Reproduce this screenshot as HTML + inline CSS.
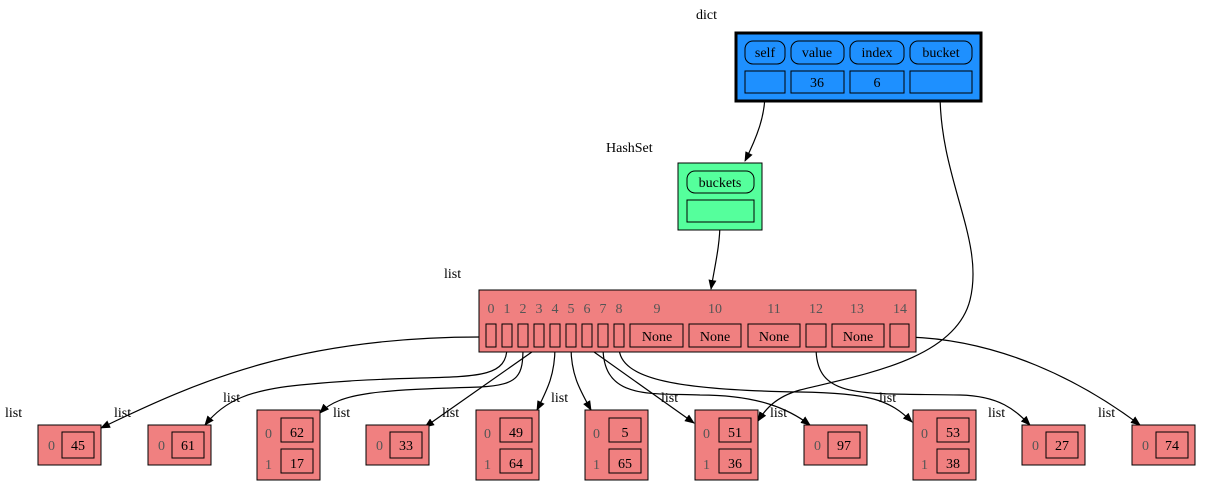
<!DOCTYPE html>
<html><head><meta charset="utf-8"><style>
html,body{margin:0;padding:0;background:#fff;}
svg text{font-family:"Liberation Serif",serif;font-size:14px;}
</style></head><body>
<svg width="1212" height="492" viewBox="0 0 1212 492" xmlns="http://www.w3.org/2000/svg">
<defs>
<marker id="a" markerWidth="10" markerHeight="8" refX="9" refY="4" orient="auto" markerUnits="userSpaceOnUse">
<path d="M0,0 L10,4 L0,8 Z" fill="#000"/></marker>
</defs>
<g fill="none" stroke="#000" stroke-width="1.2">
<path d="M765,93 C765,115 758,135 745,161" marker-end="url(#a)"/>
<path d="M720,222 C720,245 715,265 711,289" marker-end="url(#a)"/>
<path d="M940,93 C940,180 985,240 970,300 C955,360 860,375 800,390 C775,397 765,410 758,421" marker-end="url(#a)"/>
<path d="M480,337 C300,337 200,380 101,428" marker-end="url(#a)"/>
<path d="M507,347 C507,390 450,370 300,385 C250,390 225,400 205,425" marker-end="url(#a)"/>
<path d="M523,347 C523,375 520,385 480,387 C380,390 340,392 320,413" marker-end="url(#a)"/>
<path d="M539,347 L425,427" marker-end="url(#a)"/>
<path d="M555,347 C555,375 547,390 537,410" marker-end="url(#a)"/>
<path d="M571,347 C571,375 580,390 591,410" marker-end="url(#a)"/>
<path d="M587,347 L694,423" marker-end="url(#a)"/>
<path d="M603,347 C603,400 650,393 700,395 C760,395 790,410 810,425" marker-end="url(#a)"/>
<path d="M619,347 C619,380 680,390 800,392 C870,393 890,400 912,422" marker-end="url(#a)"/>
<path d="M816,347 C816,400 860,393 960,395 C1000,396 1015,410 1030,425" marker-end="url(#a)"/>
<path d="M909,337 C1000,340 1080,380 1140,425" marker-end="url(#a)"/>
</g>
<!-- labels -->
<g fill="#000">
<text x="696" y="19">dict</text>
<text x="606" y="152">HashSet</text>
<text x="444" y="278">list</text>
<text x="5" y="417">list</text>
<text x="114" y="417">list</text>
<text x="223" y="402">list</text>
<text x="333" y="417">list</text>
<text x="442" y="417">list</text>
<text x="551" y="402">list</text>
<text x="661" y="402">list</text>
<text x="770" y="417">list</text>
<text x="879" y="402">list</text>
<text x="988" y="417">list</text>
<text x="1098" y="417">list</text>
</g>
<!-- dict -->
<rect x="736" y="33" width="245" height="68" fill="#1e90ff" stroke="#000" stroke-width="3"/>
<g fill="none" stroke="#000">
<rect x="745" y="41" width="40" height="23" rx="8"/>
<rect x="791" y="41" width="53" height="23" rx="8"/>
<rect x="850" y="41" width="54" height="23" rx="8"/>
<rect x="910" y="41" width="62" height="23" rx="8"/>
<rect x="745" y="71" width="40" height="22"/>
<rect x="791" y="71" width="53" height="22"/>
<rect x="850" y="71" width="54" height="22"/>
<rect x="910" y="71" width="62" height="22"/>
</g>
<g text-anchor="middle">
<text x="765" y="57">self</text><text x="817" y="57">value</text><text x="877" y="57">index</text><text x="941" y="57">bucket</text>
<text x="817" y="87">36</text><text x="877" y="87">6</text>
</g>
<!-- HashSet -->
<rect x="678" y="163" width="84" height="67" fill="#55ff9c" stroke="#000"/>
<rect x="687" y="171" width="67" height="22" rx="8" fill="none" stroke="#000"/>
<rect x="687" y="200" width="67" height="22" fill="none" stroke="#000"/>
<text x="720" y="187" text-anchor="middle">buckets</text>
<!-- main list -->
<rect x="479" y="290" width="437" height="62" fill="#f08080" stroke="#000"/>
<g fill="#555" text-anchor="middle">
<text x="491" y="313">0</text><text x="507" y="313">1</text><text x="523" y="313">2</text><text x="539" y="313">3</text><text x="555" y="313">4</text><text x="571" y="313">5</text><text x="587" y="313">6</text><text x="603" y="313">7</text><text x="619" y="313">8</text>
<text x="657" y="313">9</text><text x="715" y="313">10</text><text x="774" y="313">11</text><text x="816" y="313">12</text><text x="857" y="313">13</text><text x="900" y="313">14</text>
</g>
<g fill="none" stroke="#000">
<rect x="486" y="324" width="10" height="23"/><rect x="502" y="324" width="10" height="23"/><rect x="518" y="324" width="10" height="23"/><rect x="534" y="324" width="10" height="23"/><rect x="550" y="324" width="10" height="23"/><rect x="566" y="324" width="10" height="23"/><rect x="582" y="324" width="10" height="23"/><rect x="598" y="324" width="10" height="23"/><rect x="614" y="324" width="10" height="23"/>
<rect x="630" y="324" width="53" height="23"/><rect x="689" y="324" width="52" height="23"/><rect x="748" y="324" width="52" height="23"/><rect x="806" y="324" width="20" height="23"/><rect x="832" y="324" width="52" height="23"/><rect x="890" y="324" width="19" height="23"/>
</g>
<g text-anchor="middle">
<text x="657" y="341">None</text><text x="715" y="341">None</text><text x="774" y="341">None</text><text x="858" y="341">None</text>
</g>
<!-- small lists -->
<g>
<g transform="translate(38,0)"><rect x="0" y="425" width="63" height="40" fill="#f08080" stroke="#000"/><text x="10" y="450" fill="#555">0</text><rect x="24" y="432" width="32" height="26" fill="none" stroke="#000"/><text x="40" y="450" text-anchor="middle">45</text></g>
<g transform="translate(148,0)"><rect x="0" y="425" width="63" height="40" fill="#f08080" stroke="#000"/><text x="10" y="450" fill="#555">0</text><rect x="24" y="432" width="32" height="26" fill="none" stroke="#000"/><text x="40" y="450" text-anchor="middle">61</text></g>
<g transform="translate(366,0)"><rect x="0" y="425" width="63" height="40" fill="#f08080" stroke="#000"/><text x="10" y="450" fill="#555">0</text><rect x="24" y="432" width="32" height="26" fill="none" stroke="#000"/><text x="40" y="450" text-anchor="middle">33</text></g>
<g transform="translate(804,0)"><rect x="0" y="425" width="63" height="40" fill="#f08080" stroke="#000"/><text x="10" y="450" fill="#555">0</text><rect x="24" y="432" width="32" height="26" fill="none" stroke="#000"/><text x="40" y="450" text-anchor="middle">97</text></g>
<g transform="translate(1022,0)"><rect x="0" y="425" width="63" height="40" fill="#f08080" stroke="#000"/><text x="10" y="450" fill="#555">0</text><rect x="24" y="432" width="32" height="26" fill="none" stroke="#000"/><text x="40" y="450" text-anchor="middle">27</text></g>
<g transform="translate(1132,0)"><rect x="0" y="425" width="63" height="40" fill="#f08080" stroke="#000"/><text x="10" y="450" fill="#555">0</text><rect x="24" y="432" width="32" height="26" fill="none" stroke="#000"/><text x="40" y="450" text-anchor="middle">74</text></g>
</g>
<!-- two-row lists -->
<g>
<g transform="translate(257,0)"><rect x="0" y="410" width="63" height="70" fill="#f08080" stroke="#000"/><text x="8" y="438" fill="#555">0</text><text x="8" y="469" fill="#555">1</text><rect x="24" y="418" width="32" height="24" fill="none" stroke="#000"/><rect x="24" y="449" width="32" height="24" fill="none" stroke="#000"/><text x="40" y="437" text-anchor="middle">62</text><text x="40" y="468" text-anchor="middle">17</text></g>
<g transform="translate(476,0)"><rect x="0" y="410" width="63" height="70" fill="#f08080" stroke="#000"/><text x="8" y="438" fill="#555">0</text><text x="8" y="469" fill="#555">1</text><rect x="24" y="418" width="32" height="24" fill="none" stroke="#000"/><rect x="24" y="449" width="32" height="24" fill="none" stroke="#000"/><text x="40" y="437" text-anchor="middle">49</text><text x="40" y="468" text-anchor="middle">64</text></g>
<g transform="translate(585,0)"><rect x="0" y="410" width="63" height="70" fill="#f08080" stroke="#000"/><text x="8" y="438" fill="#555">0</text><text x="8" y="469" fill="#555">1</text><rect x="24" y="418" width="32" height="24" fill="none" stroke="#000"/><rect x="24" y="449" width="32" height="24" fill="none" stroke="#000"/><text x="40" y="437" text-anchor="middle">5</text><text x="40" y="468" text-anchor="middle">65</text></g>
<g transform="translate(695,0)"><rect x="0" y="410" width="63" height="70" fill="#f08080" stroke="#000"/><text x="8" y="438" fill="#555">0</text><text x="8" y="469" fill="#555">1</text><rect x="24" y="418" width="32" height="24" fill="none" stroke="#000"/><rect x="24" y="449" width="32" height="24" fill="none" stroke="#000"/><text x="40" y="437" text-anchor="middle">51</text><text x="40" y="468" text-anchor="middle">36</text></g>
<g transform="translate(913,0)"><rect x="0" y="410" width="63" height="70" fill="#f08080" stroke="#000"/><text x="8" y="438" fill="#555">0</text><text x="8" y="469" fill="#555">1</text><rect x="24" y="418" width="32" height="24" fill="none" stroke="#000"/><rect x="24" y="449" width="32" height="24" fill="none" stroke="#000"/><text x="40" y="437" text-anchor="middle">53</text><text x="40" y="468" text-anchor="middle">38</text></g>
</g>
</svg>
</body></html>
